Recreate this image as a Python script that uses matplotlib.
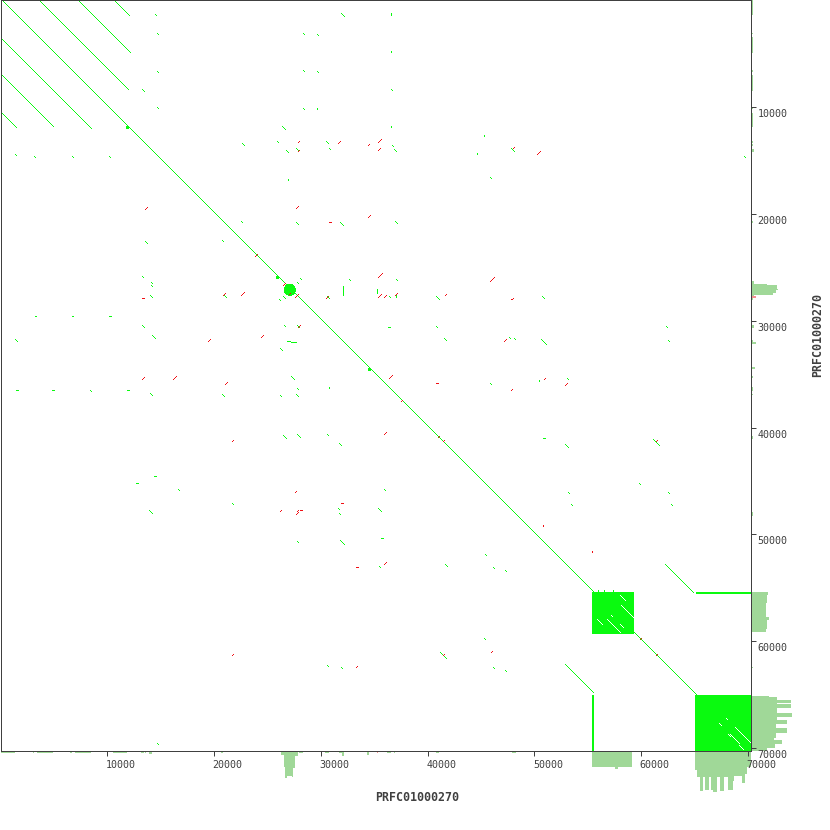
import matplotlib
matplotlib.use("Agg")
import matplotlib.pyplot as plt
from matplotlib.patches import Rectangle, Circle
from matplotlib.transforms import ScaledTranslation

AXIS_END = 70225
CELL = 93.63
GREEN = "#0afa0f"
RED = "#f00f14"
PALE = "#a0d898"
PINK = "#f49090"
DARK = "#404040"
tick_values = [10000, 20000, 30000, 40000, 50000, 60000, 70000]
axis_name = "PRFC01000270"

# long forward matches
long_x = [0, 3470, 7120, 10490, 0, 0, 0, 62200, 52840]
long_y = [0, 0, 0, 0, 3560, 7020, 10580, 52840, 62200]
long_len = [70225, 8430, 4920, 1490, 8430, 4900, 1400, 2600, 2620]

# short forward matches
green_x = [26340, 22590, 25840, 26710, 27650, 30460, 30740, 36640, 36820, 22540, 27650, 31770, 36920,
           13510, 20720, 13230, 14070, 14110, 13980, 28020, 27780, 32650, 37050, 30550, 36360, 26090,
           26470, 20910, 13230, 26530, 27740, 14170, 26120, 27740, 13980, 20720, 26150, 27690, 27150,
           47780, 45810, 40730, 50650, 40730, 62290, 41510, 47560, 48060, 50590, 62480, 45810, 53020,
           26430, 27740, 30550, 31670, 16600, 21660, 35890, 31580, 35330, 31670, 13890, 27740, 31740,
           35420, 30550, 31860, 52810, 61080, 59740, 53120, 62480, 53400, 62760, 45350, 41600, 46090,
           47220, 45250, 41130, 46090, 47220, 31860, 28280, 29620, 28280, 29620, 36540, 28280,
           14450, 14670, 14670, 14670, 13270, 1360, 3090, 6650, 10110, 1340, 8360, 14610, 69600]
green_y = [11830, 13480, 13230, 14070, 13950, 13230, 13890, 13600, 13980, 20720, 20850, 20790, 20720,
           22590, 22500, 25870, 26470, 26750, 27650, 26090, 26470, 26150, 26150, 27740, 27740, 28020,
           27740, 27690, 30460, 30520, 30520, 31460, 32610, 36360, 36820, 36920, 37010, 36920, 35230,
           13890, 16600, 27740, 27740, 30550, 30550, 31670, 31580, 31670, 31770, 31860, 35890, 35420,
           40820, 40730, 40730, 41510, 45810, 47120, 45810, 47590, 47590, 48060, 47780, 50680, 50590,
           53020, 62290, 62480, 41600, 41130, 45250, 46090, 46090, 47220, 47220, 51900, 52840, 53120,
           53400, 59760, 61080, 62480, 62760, 1310, 3120, 3210, 6620, 6680, 8360, 10140,
           1340, 3090, 6650, 10110, 8400, 14470, 14670, 14670, 14670, 31830, 36540, 69600, 14630]
green_len = [280, 190, 94, 190, 190, 190, 94, 94, 190, 94, 190, 280, 190,
             190, 94, 94, 94, 94, 190, 94, 94, 94, 94, 190, 94, 94,
             190, 190, 190, 50, 190, 280, 190, 94, 190, 190, 94, 190, 280,
             280, 94, 280, 190, 94, 50, 190, 94, 94, 470, 94, 94, 94,
             280, 280, 94, 190, 94, 94, 94, 94, 280, 94, 280, 94, 370,
             94, 50, 94, 280, 530, 50, 94, 94, 50, 50, 94, 190, 94,
             50, 50, 530, 94, 50, 280, 94, 50, 94, 50, 50, 94,
             94, 94, 94, 94, 190, 94, 94, 94, 94, 190, 50, 94, 94]

# vertical green marks
tall_x = [36540, 26900, 32090, 35270, 37010, 30740, 45250, 44600, 50400, 36520, 36540, 29620,
          55930, 56490, 57330, 55360, 55360, 55360]
tall_y = [11830, 16790, 26780, 27150, 27710, 36260, 12710, 14390, 35640, 1310, 4840, 10180,
          55330, 55330, 55330, 55930, 56490, 57330]
tall_len = [100, 100, 800, 400, 190, 100, 100, 100, 100, 150, 100, 100,
            100, 100, 100, 100, 100, 100]

# horizontal green marks
wide_x = [36260, 26780, 27150, 14350, 12640, 35580, 50780, 3180, 6680, 10180, 1400, 4840, 11860]
wide_y = [30710, 32020, 32070, 44600, 45250, 50400, 41040, 29590, 29590, 29590, 36540, 36540, 36540]
wide_len = [190, 280, 470, 190, 190, 190, 190, 100, 100, 190, 190, 190, 190]

# reverse matches
red_x = [27810, 27810, 31550, 34390, 35330, 35330, 27620, 13480, 34390, 23810, 35330, 26470, 20810,
         22500, 27530, 30460, 35330, 35890, 36920, 27030, 27870, 19410, 24370, 13230, 16170, 21040,
         36360, 45810, 41600, 47780, 47100, 47780, 50870, 52840, 50210, 47940, 21660, 35890, 27560,
         26150, 27650, 27740, 35890, 21660, 33270, 45910, 37520, 40980, 41380, 59900, 61330, 61330, 41380]
red_y = [13360, 14140, 13450, 13600, 13360, 14110, 19540, 19630, 20380, 24030, 26000, 26690, 27650,
         27650, 27810, 27930, 27810, 27840, 27650, 27620, 30620, 31930, 31580, 35510, 35510, 35980,
         35420, 26340, 27650, 28090, 31960, 36520, 35490, 36080, 14420, 13860, 41380, 40730, 46160,
         47850, 48150, 47850, 52900, 61420, 62540, 61140, 37550, 40980, 41380, 59900, 61330, 41380, 61330]
red_len = [94, 94, 190, 94, 280, 190, 190, 190, 190, 190, 370, 190, 190,
           280, 280, 190, 280, 190, 190, 94, 190, 190, 190, 190, 280, 190,
           280, 370, 50, 190, 190, 94, 94, 190, 280, 94, 94, 190, 94,
           94, 190, 94, 190, 94, 94, 94, 94, 94, 94, 94, 94, 94, 94]
red_wide_x = [30710, 13200, 40760, 31860, 28020, 33270]
red_wide_y = [20810, 27930, 35890, 47120, 47780, 53120]
red_wide_len = [190, 190, 190, 190, 190, 190]
red_tall_x = [50780, 55360]
red_tall_y = [49250, 51680]
red_tall_len = [100, 100]

# repeat blocks
block_start = [55430, 65070]
block_size = [3840, 5155]
# gaps inside the blocks
gap_x = [57960, 58080, 55800, 56740, 57140, 57960, 67880, 67260, 68750, 69760, 68280, 68100, 69130]
gap_y = [55800, 56740, 57960, 58050, 57610, 58490, 67260, 67720, 68100, 69130, 68750, 68750, 69760]
gap_len = [440, 1150, 440, 1190, 120, 240, 100, 190, 1030, 420, 850, 190, 400]
# block-to-block strips: start, length, thickness
strip_start = [65100, 65070]
strip_cross = [55400, 55340]
strip_len = [5125, 5155]
strip_width = [170, 220]
# thicker spots on the diagonal
spot_pos = [11750, 25800, 34440]
spot_size = [280, 280, 280]
core_center = 27090
core_radius = 515

# margin coverage: bottom
bottom_start = [0, 3000, 3460, 6550, 6930, 10490, 13200, 13510, 13860, 14610, 20690, 26310, 26590, 26680,
                26870, 27340, 27430, 27530, 27810, 27990, 28180, 30340, 31740, 32020, 34360, 36230, 36890,
                40820, 45790, 46070, 47940, 55340, 55430, 57580, 57860, 62450, 65070, 65200, 65450, 65820,
                65980, 66320, 66480, 66690, 67100, 67410, 67720, 68130, 68570, 68660, 69030, 69470, 69720, 69910]
bottom_end = [1400, 3090, 4960, 6650, 8430, 11890, 13480, 13580, 14230, 14700, 20880, 26590, 26680, 26870,
              27340, 27430, 27530, 27810, 27900, 28090, 28370, 30800, 31930, 32120, 34550, 36520, 36980,
              41100, 45880, 46160, 48310, 55430, 57580, 57860, 59170, 62540, 65200, 65450, 65820, 65980,
              66320, 66480, 66690, 67100, 67410, 67720, 68130, 68570, 68660, 69030, 69470, 69720, 69910, 70225]
bottom_depth = [190, 190, 190, 190, 190, 190, 190, 190, 280, 190, 190, 370, 1500, 2530,
                2340, 2430, 1590, 470, 190, 190, 190, 190, 190, 470, 370, 190, 190,
                190, 190, 190, 190, 1590, 1500, 1690, 1500, 90, 1780, 2430, 3750, 2400,
                3650, 2400, 3650, 3840, 2400, 3750, 2400, 3650, 2800, 2340, 2300, 3000, 2150, 1500]
bottom_pink_start = [35270]
bottom_pink_end = [35360]
bottom_pink_depth = [190]

# margin coverage: right
right_start = [0, 3000, 3460, 6550, 6930, 9990, 10490, 11800, 13200, 13480, 13860, 14610, 20690, 26310, 26590,
               26680, 26970, 27150, 27430, 27620, 27900, 30340, 31830, 32020, 34360, 35200, 36230, 36890,
               40820, 45790, 46070, 47940, 55430, 55640, 56430, 57750, 57990, 58830, 62450, 65100, 65230,
               65480, 65760, 65850, 66230, 66670, 67100, 67410, 67720, 68130, 68570, 69030, 69280, 69660, 69970]
right_end = [1400, 3180, 4960, 6650, 8520, 10140, 11800, 11890, 13300, 13670, 14140, 14700, 20880, 26590, 26680,
             26970, 27150, 27430, 27530, 27710, 28090, 30620, 32020, 32120, 34460, 35300, 36520, 36980,
             41100, 45880, 46160, 48310, 55640, 56430, 57750, 57990, 58830, 59170, 62540, 65230, 65480,
             65760, 65850, 66230, 66670, 67100, 67410, 67720, 68130, 68570, 69030, 69280, 69660, 69970, 70225]
right_depth = [190, 190, 190, 190, 190, 190, 190, 370, 190, 190, 280, 190, 190, 280, 1500,
               2430, 2530, 2340, 2060, 280, 190, 280, 190, 470, 370, 190, 190, 190,
               190, 190, 190, 190, 1590, 1500, 1400, 1690, 1500, 1400, 190, 1690, 2430,
               3750, 2430, 3750, 2430, 3840, 2430, 3370, 2340, 3370, 2340, 2150, 2900, 2240, 1500]
right_pink_start = [27530, 27710]
right_pink_end = [27620, 27810]
right_pink_depth = [370, 470]

fig = plt.figure(figsize=(8.3, 8.3), dpi=100)
ax = fig.add_axes([0.5 / 830, 79.5 / 830, 750 / 830, 750 / 830])
ax.set_xlim(0, AXIS_END)
ax.set_ylim(AXIS_END, 0)


def add_cells(xs, ys, ls, step_x, step_y, color, z):
    """Each match is a run of dot-matrix cells, one device pixel each."""
    px, py = [], []
    for x, y, l in zip(xs, ys, ls):
        n = int(round(l / CELL))
        for k in range(n + 1):
            px.append(x + 10 + step_x * k * CELL)
            py.append(y + step_y * k * CELL)
    ax.plot(px, py, ",", color=color, zorder=z, antialiased=False)


def add_profile(starts, ends, depths, color, vertical_margin):
    base = AXIS_END + 50
    along, across = [], []
    for a, b, d in zip(starts, ends, depths):
        along += [a, a, b, b]
        across += [base, base + d, base + d, base]
    if vertical_margin:
        ax.fill(across, along, color=color, linewidth=0, antialiased=False, clip_on=False, zorder=1)
    else:
        ax.fill(along, across, color=color, linewidth=0, antialiased=False, clip_on=False, zorder=1)


add_cells(long_x, long_y, long_len, 1, 1, GREEN, 2)
add_cells(green_x, green_y, green_len, 1, 1, GREEN, 2)
add_cells(tall_x, tall_y, tall_len, 0, 1, GREEN, 2)
add_cells(wide_x, wide_y, wide_len, 1, 0, GREEN, 2)
add_cells(red_x, red_y, red_len, 1, -1, RED, 5)
add_cells(red_wide_x, red_wide_y, red_wide_len, 1, 0, RED, 5)
add_cells(red_tall_x, red_tall_y, red_tall_len, 0, 1, RED, 5)

for s, size in zip(block_start, block_size):
    ax.add_patch(Rectangle((s, s), size, size, fc=GREEN, ec="none", antialiased=False, zorder=3))
add_cells(gap_x, gap_y, gap_len, 1, 1, "white", 4)
ax.add_patch(Rectangle((strip_start[0], strip_cross[0]), strip_len[0], strip_width[0],
                       fc=GREEN, ec="none", antialiased=False, zorder=3))
ax.add_patch(Rectangle((strip_cross[1], strip_start[1]), strip_width[1], strip_len[1],
                       fc=GREEN, ec="none", antialiased=False, zorder=3))
for p, size in zip(spot_pos, spot_size):
    ax.add_patch(Rectangle((p, p), size, size, fc=GREEN, ec="none", antialiased=False, zorder=3))
ax.add_patch(Circle((core_center, core_center), core_radius, fc=GREEN, ec="none",
                    antialiased=False, zorder=3))

add_profile(bottom_start, bottom_end, bottom_depth, PALE, False)
add_profile(bottom_pink_start, bottom_pink_end, bottom_pink_depth, PINK, False)
add_profile(right_start, right_end, right_depth, PALE, True)
add_profile(right_pink_start, right_pink_end, right_pink_depth, PINK, True)

ax.set_xlim(0, AXIS_END)
ax.set_ylim(AXIS_END, 0)

for sp in ax.spines.values():
    sp.set_color(DARK)
    sp.set_linewidth(0.72)
    sp.set_zorder(6)

ax.yaxis.tick_right()
ax.set_xticks(tick_values)
ax.set_yticks(tick_values)
ax.set_xticklabels([str(v) for v in tick_values], family="DejaVu Sans Mono", fontsize=7.2, color=DARK, ha="left")
ax.set_yticklabels([str(v) for v in tick_values], family="DejaVu Sans Mono", fontsize=7.2, color=DARK, va="top")
ax.tick_params(axis="both", length=3.6, width=0.72, color=DARK)
ax.tick_params(axis="x", pad=3.2)
ax.tick_params(axis="y", pad=1.5)
for lab in ax.get_yticklabels():
    lab.set_transform(lab.get_transform() + ScaledTranslation(0, -2 / 100, fig.dpi_scale_trans))
for lab in ax.get_xticklabels():
    lab.set_transform(lab.get_transform() + ScaledTranslation(-1.5 / 100, 0, fig.dpi_scale_trans))

fig.text(417 / 830, 1 - 797 / 830, axis_name, family="DejaVu Sans Mono", weight="bold", fontsize=8.4,
         color=DARK, ha="center", va="center")
fig.text(817.5 / 830, 1 - 335 / 830, axis_name, family="DejaVu Sans Mono", weight="bold", fontsize=8.4,
         color=DARK, ha="center", va="center", rotation=90)

fig.savefig("out.png", dpi=100)
